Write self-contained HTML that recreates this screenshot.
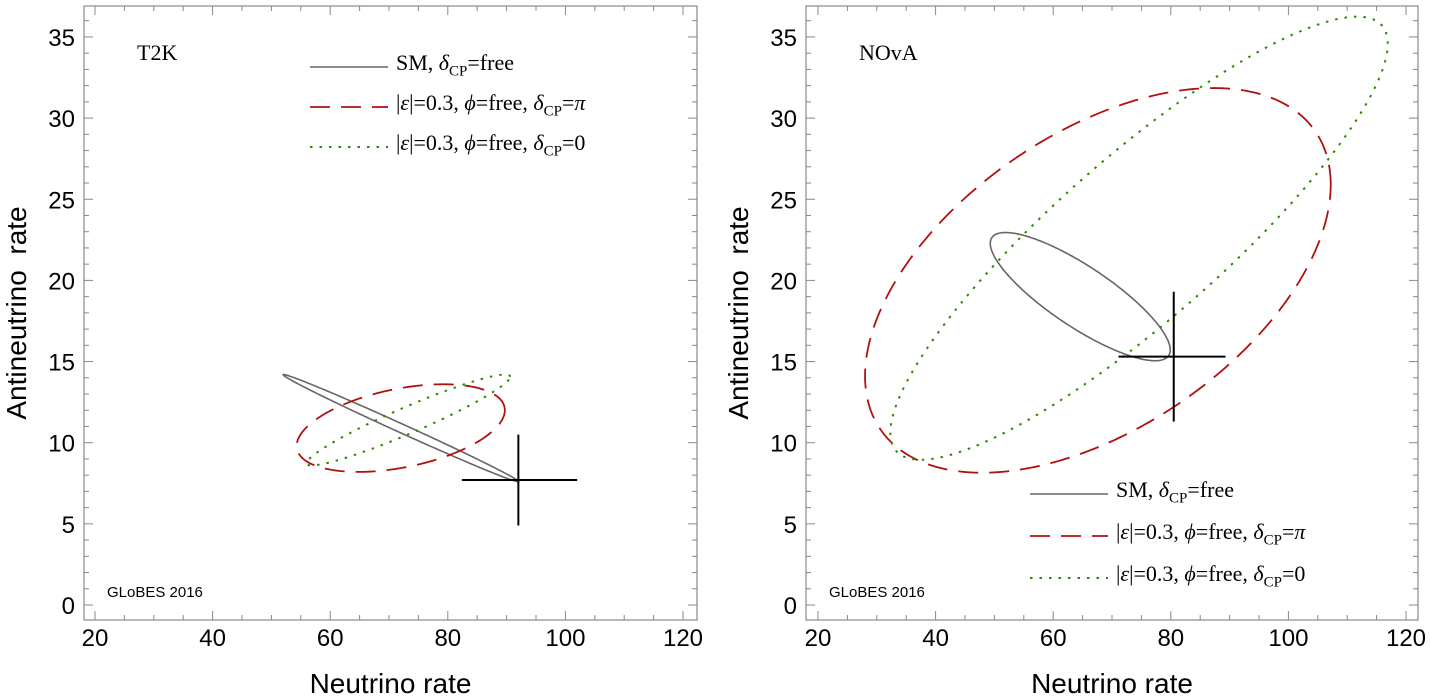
<!DOCTYPE html>
<html><head><meta charset="utf-8"><style>
body{margin:0;background:#fff}
svg{display:block}
.tk{font-family:"Liberation Sans",sans-serif;font-size:24px;fill:#000}
.ser{font-family:"Liberation Serif",serif;font-size:19px;fill:#000}
</style></head><body>
<svg id="fig" width="1430" height="700"></svg>
<script>
// ---- data ----
const xTicks=[20,40,60,80,100,120];
const yTicks=[0,5,10,15,20,25,30,35];
// ellipse params: [cx, halfXRange, cy, halfYRange, phase]
const t2kSM=[72,20,10.9,3.3,Math.PI-0.09];
const t2kRed=[72,17.7,10.9,2.7,1.15];
const t2kGreen=[73.3,17.3,11.4,2.8,0.32];
const t2kCross=[92,82.4,102,7.7,4.9,10.5];
const novaSM=[64.6,15.3,19,3.95,2.55];
const novaRed=[67.6,39.6,20,11.85,1.05];
const novaGreen=[74.6,42.3,22.6,13.65,0.5];
const novaCross=[80.5,71.1,89.3,15.3,11.3,19.3];
const legendLabels=["SM, δ<sub>CP</sub>=free","|ε|=0.3, ϕ=free, δ<sub>CP</sub>=π","|ε|=0.3, ϕ=free, δ<sub>CP</sub>=0"];

const NS="http://www.w3.org/2000/svg";
const svg=document.getElementById('fig');
function mk(tag,attrs,parent){const e=document.createElementNS(NS,tag);for(const k in attrs)e.setAttribute(k,attrs[k]);(parent||svg).appendChild(e);return e;}
const styles=[{stroke:"#666",w:1.6,dash:""},{stroke:"#b01010",w:1.8,dash:"20,11"},{stroke:"#2a8a00",w:2,dash:"2.5,7"}];

function panel(name,x0,frameL,frameR,title,ells,cross,legPos){
  const g=mk('g',{});
  
  
  const X=v=>x0+(v-20)*5.88, Y=v=>605-v*16.23;
  const top=6,bot=620;
  const fr=mk('rect',{x:frameL,y:top,width:frameR-frameL,height:bot-top,fill:"none",stroke:"#888","stroke-width":1.2},g);
  
  for(let v=20;v<=120;v+=5){const L=v%20==0?9:5;const px=X(v);
    mk('line',{x1:px,x2:px,y1:bot,y2:bot-L,stroke:"#888"},g);mk('line',{x1:px,x2:px,y1:top,y2:top+L,stroke:"#888"},g);}
  for(let v=0;v<=36;v+=1){const L=v%5==0?9:5;const py=Y(v);
    mk('line',{x1:frameL,x2:frameL+L,y1:py,y2:py,stroke:"#888"},g);mk('line',{x1:frameR,x2:frameR-L,y1:py,y2:py,stroke:"#888"},g);}
  xTicks.forEach(v=>{const t=mk('text',{x:X(v),y:646,class:"tk","text-anchor":"middle"},g);t.textContent=v;
    });
  yTicks.forEach(v=>{const t=mk('text',{x:frameL-9,y:Y(v)+9,class:"tk","text-anchor":"end"},g);t.textContent=v;
    });
  const xl=mk('text',{x:(frameL+frameR)/2,y:693,class:"tk","text-anchor":"middle",style:"font-size:28px"},g);xl.textContent="Neutrino rate";
  
  const yx=frameL-58;
  const yl=mk('text',{x:yx,y:313,class:"tk","text-anchor":"middle",style:"font-size:28px;white-space:pre",transform:`rotate(-90 ${yx} 313)`},g);yl.textContent="Antineutrino  rate";
  
  const tt=mk('text',{x:frameL+53,y:60,class:"ser",style:"font-size:22px"},g);tt.textContent=title;
  
  const gl=mk('text',{x:frameL+23,y:597,class:"tk",style:"font-size:15px"},g);gl.textContent="GLoBES 2016";
  
  ells.forEach((p,i)=>{let d="";for(let k=0;k<=360;k++){const t=k/360*2*Math.PI;
      const px=X(p[0]+p[1]*Math.cos(t)),py=Y(p[2]+p[3]*Math.cos(t-p[4]));d+=(k?"L":"M")+px.toFixed(2)+","+py.toFixed(2);}
    const s=styles[i];const e=mk('path',{d:d+"Z",fill:"none",stroke:s.stroke,"stroke-width":s.w,"stroke-dasharray":s.dash},g);
    
    });
  const c1=mk('line',{x1:X(cross[1]),x2:X(cross[2]),y1:Y(cross[3]),y2:Y(cross[3]),stroke:"#000","stroke-width":2},g);
  
  const c2=mk('line',{x1:X(cross[0]),x2:X(cross[0]),y1:Y(cross[4]),y2:Y(cross[5]),stroke:"#000","stroke-width":2},g);
  
  const [lx,ly,dy]=legPos;
  legendLabels.forEach((lab,i)=>{const s=styles[i];const yy=ly+i*dy;
    const ln=mk('line',{x1:lx,x2:lx+78,y1:yy,y2:yy,stroke:s.stroke,"stroke-width":s.w,"stroke-dasharray":s.dash},g);
    
    const fo=mk('foreignObject',{x:lx+86,y:yy-18,width:300,height:34},g);
    
    fo.innerHTML=`<div xmlns="http://www.w3.org/1999/xhtml" style="font-family:'Liberation Serif',serif;font-size:22px;line-height:28px;white-space:nowrap">${lab.replace(/([δεϕπ])/g,'<i>$1</i>').replace(/<sub>/g,'<sub style="font-size:15px">')}</div>`;});
}
panel('t2k',95,84,697,"T2K",[t2kSM,t2kRed,t2kGreen],t2kCross,[310,67,40]);
panel('nova',818,806,1418,"NOvA",[novaSM,novaRed,novaGreen],novaCross,[1030,494,42]);
</script>
</body></html>
